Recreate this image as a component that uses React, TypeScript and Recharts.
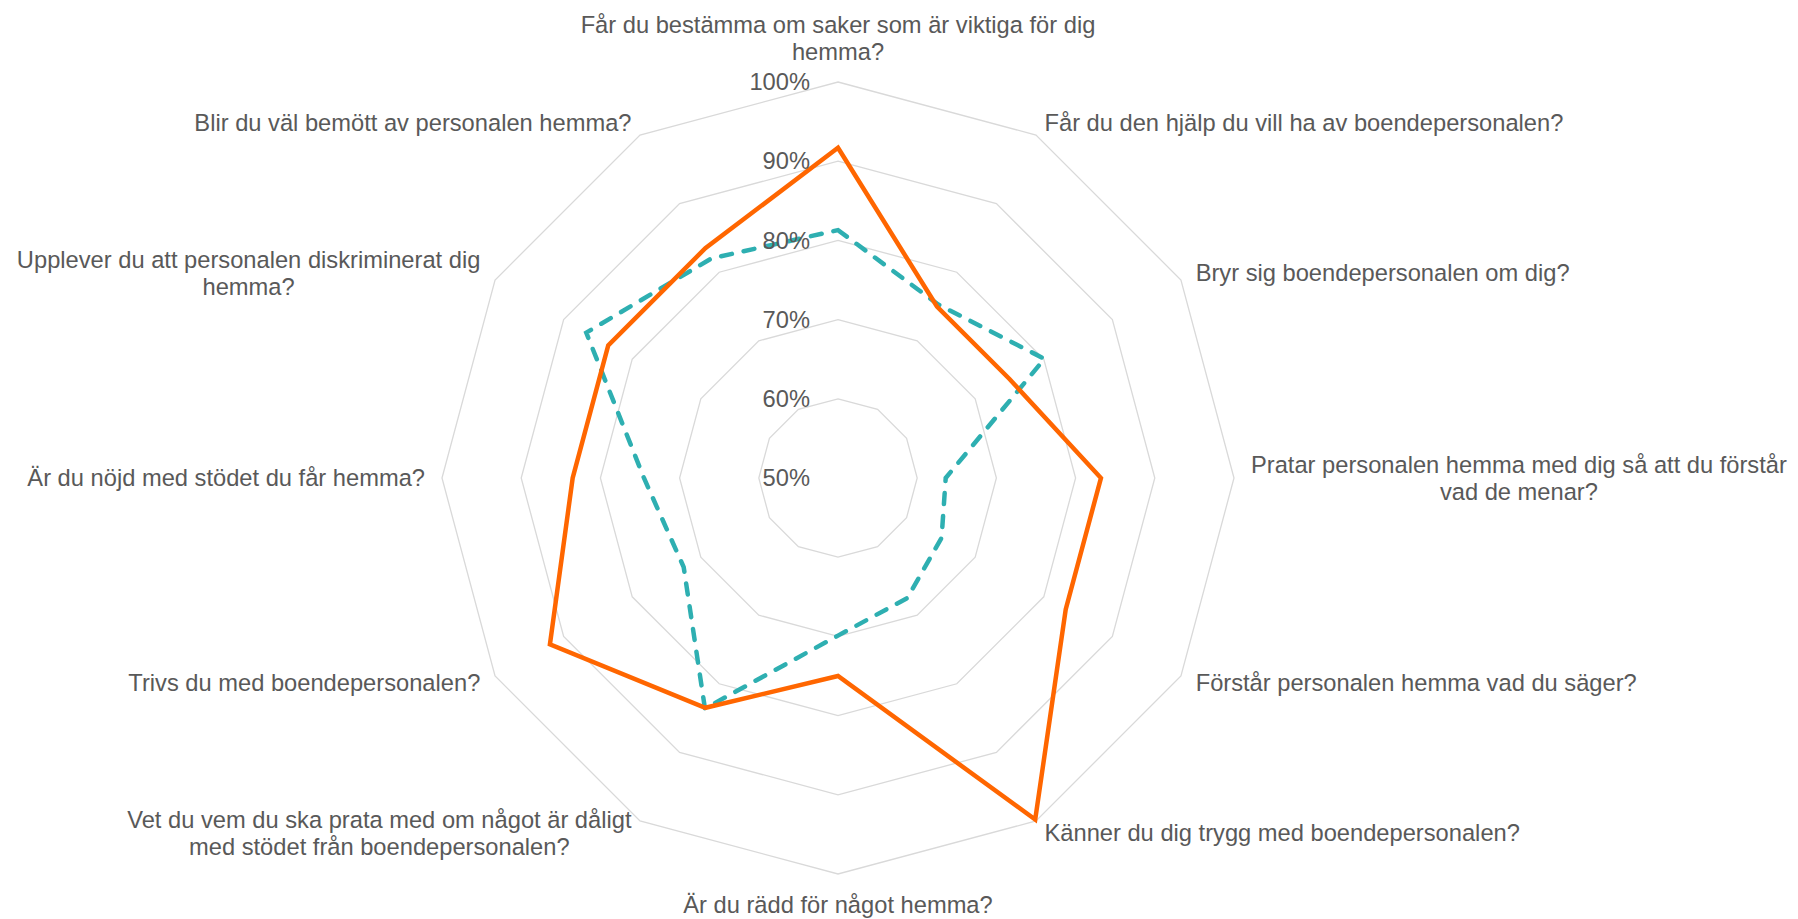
import React from "react";
import {
  RadarChart,
  Radar,
  PolarGrid,
  PolarAngleAxis,
  PolarRadiusAxis,
} from "recharts";

// the twelve questions, clockwise from the top
const categories = [
  "Får du bestämma om saker som är viktiga för dig hemma?",
  "Får du den hjälp du vill ha av boendepersonalen?",
  "Bryr sig boendepersonalen om dig?",
  "Pratar personalen hemma med dig så att du förstår vad de menar?",
  "Förstår personalen hemma vad du säger?",
  "Känner du dig trygg med boendepersonalen?",
  "Är du rädd för något hemma?",
  "Vet du vem du ska prata med om något är dåligt med stödet från boendepersonalen?",
  "Trivs du med boendepersonalen?",
  "Är du nöjd med stödet du får hemma?",
  "Upplever du att personalen diskriminerat dig hemma?",
  "Blir du väl bemött av personalen hemma?",
];

// how the labels wrap in the original
const labelLines = [
  ["Får du bestämma om saker som är viktiga för dig", "hemma?"],
  ["Får du den hjälp du vill ha av boendepersonalen?"],
  ["Bryr sig boendepersonalen om dig?"],
  ["Pratar personalen hemma med dig så att du förstår", "vad de menar?"],
  ["Förstår personalen hemma vad du säger?"],
  ["Känner du dig trygg med boendepersonalen?"],
  ["Är du rädd för något hemma?"],
  ["Vet du vem du ska prata med om något är dåligt", "med stödet från boendepersonalen?"],
  ["Trivs du med boendepersonalen?"],
  ["Är du nöjd med stödet du får hemma?"],
  ["Upplever du att personalen diskriminerat dig", "hemma?"],
  ["Blir du väl bemött av personalen hemma?"],
];

const serieOrange = [0.917, 0.75, 0.75, 0.832, 0.832, 0.998, 0.75, 0.835, 0.92, 0.835, 0.835, 0.835];
const serieTeal = [0.813, 0.753, 0.801, 0.636, 0.651, 0.675, 0.699, 0.836, 0.725, 0.745, 0.867, 0.82];

const radiusTicks = [0.5, 0.6, 0.7, 0.8, 0.9, 1.0];

const rows = categories.map((c, i) => ({
  category: c,
  orange: serieOrange[i],
  teal: serieTeal[i],
}));

const W = 1790;
const H = 911;
const CX = 830;
const CY = 470;
const OUTER_R = 396;

const FONT = '"Liberation Sans", Arial, sans-serif';
const FONT_SIZE = 23.7;
const LINE_H = 27;
const TEXT = "#595959";

let ctx: CanvasRenderingContext2D | null = null;
const measure = (s: string) => {
  if (!ctx) ctx = document.createElement("canvas").getContext("2d");
  if (!ctx) return s.length * FONT_SIZE * 0.5;
  ctx.font = `${FONT_SIZE}px "Liberation Sans"`;
  return ctx.measureText(s).width;
};

const AngleTick = (props: any) => {
  const { payload, index } = props;
  const lines = labelLines[index] || [payload.value];
  const a = (payload.coordinate * Math.PI) / 180;
  const cos = Math.cos(a);
  const sin = Math.sin(a);
  const vx = CX + OUTER_R * cos;
  const vy = CY - OUTER_R * sin;
  const blockW = Math.max(...lines.map(measure));
  const blockH = lines.length * LINE_H;

  let left;
  let centerY;
  if (Math.abs(cos) < 0.01) {
    left = vx - blockW / 2;
    centerY = sin > 0 ? vy - 17 - blockH / 2 : vy + 17 + blockH / 2;
  } else {
    left = cos > 0 ? vx + 17 * cos : vx + 17 * cos - blockW;
    centerY = vy - 14 * sin;
  }
  const top = centerY - blockH / 2;

  return (
    <text fill={TEXT} fontSize={FONT_SIZE} fontFamily={FONT} textAnchor="middle">
      {lines.map((l: string, i: number) => (
        <tspan key={i} x={left + blockW / 2} y={top + i * LINE_H + LINE_H / 2 + FONT_SIZE * 0.35}>
          {l}
        </tspan>
      ))}
    </text>
  );
};

const RadiusTick = (props: any) => {
  const { x, y, payload } = props;
  return (
    <text
      x={x - 28}
      y={y + FONT_SIZE * 0.35}
      fill={TEXT}
      fontSize={FONT_SIZE}
      fontFamily={FONT}
      textAnchor="end"
    >
      {Math.round(payload.value * 100)}%
    </text>
  );
};

export default function App() {
  return (
    <div style={{ width: W, height: H, background: "#fff" }}>
      <RadarChart
        width={W}
        height={H}
        data={rows}
        cx={CX}
        cy={CY}
        outerRadius={OUTER_R}
        startAngle={90}
        endAngle={-270}
        margin={{ top: 0, right: 0, bottom: 0, left: 0 }}
      >
        <PolarGrid gridType="polygon" radialLines={false} stroke="#d9d9d9" strokeWidth={1.3} />
        <PolarAngleAxis
          dataKey="category"
          tick={<AngleTick />}
          tickLine={false}
          axisLine={false}
        />
        <PolarRadiusAxis
          angle={90}
          type="number"
          domain={[0.5, 1]}
          ticks={radiusTicks}
          tick={<RadiusTick />}
          axisLine={false}
          tickLine={false}
          allowDataOverflow
        />
        <Radar
          dataKey="teal"
          stroke="#2eafb1"
          strokeWidth={4.5}
          strokeDasharray="11 12"
          strokeLinecap="round"
          fill="none"
          fillOpacity={0}
          dot={false}
          isAnimationActive={false}
        />
        <Radar
          dataKey="orange"
          stroke="#ff6600"
          strokeWidth={4.5}
          fill="none"
          fillOpacity={0}
          dot={false}
          isAnimationActive={false}
        />
      </RadarChart>
    </div>
  );
}
